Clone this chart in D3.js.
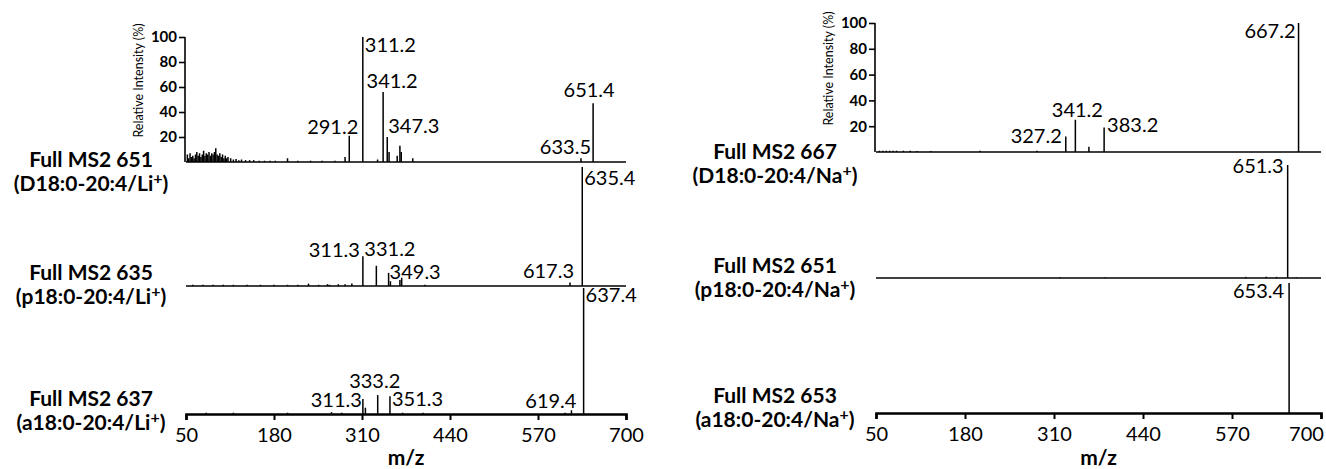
<!DOCTYPE html>
<html>
<head>
<meta charset="utf-8">
<script src="https://cdn.jsdelivr.net/npm/d3@7"></script>
<style>
  body { margin: 0; background: #fff; }
  text { font-family: Lato, "Open Sans", sans-serif; fill: #000; }
</style>
</head>
<body>
<svg id="chart" width="1326" height="469"></svg>
<script>
const mzTicks = [50, 180, 310, 440, 570, 700];
const intensityTicks = [20, 40, 60, 80, 100];

// Li+ adducts (left column)
const titlesLi = ["Full MS2 651", "Full MS2 635", "Full MS2 637"];
const speciesLi = ["D18:0-20:4/Li", "p18:0-20:4/Li", "a18:0-20:4/Li"];

// Na+ adducts (right column)
const titlesNa = ["Full MS2 667", "Full MS2 651", "Full MS2 653"];
const speciesNa = ["D18:0-20:4/Na", "p18:0-20:4/Na", "a18:0-20:4/Na"];

// peaks as [m/z, relative intensity %]
const peaksLiD18 = [
  [52, 6], [54, 3], [56, 7], [58, 4], [60, 5], [62, 3], [64, 6], [66, 8], [68, 5], [70, 7],
  [72, 4], [74, 6], [76, 9], [78, 5], [80, 7], [82, 6], [84, 8], [86, 5], [88, 7], [90, 6],
  [92, 8], [94, 11], [96, 6], [98, 5], [100, 7], [102, 4], [104, 6], [106, 3], [108, 5], [110, 3],
  [112, 4], [116, 3], [120, 2], [124, 2.5], [128, 1.5], [132, 2], [138, 1.5], [144, 1.5], [150, 1.5],
  [158, 1], [166, 1], [174, 1], [182, 1], [200, 3], [215, 1], [234, 1], [251, 1], [270, 1],
  [285, 4], [291.2, 21], [311.2, 100], [333, 2], [341.2, 56], [347.3, 20], [350, 8],
  [362, 5], [366, 13], [368, 8], [385, 3], [633.5, 3], [651.4, 47]
];
const peaksLiP18 = [
  [60, 1], [75, 1], [90, 1], [105, 1], [120, 1], [140, 1], [160, 1], [180, 1], [200, 1],
  [215, 1], [231, 2], [246, 1], [259, 1.5], [262, 1], [275, 1.5], [285, 1.5], [295, 2],
  [311.3, 25], [331.2, 17], [349.3, 11], [352, 4], [366, 5], [368.6, 7], [403, 1],
  [617.3, 3], [635.4, 100]
];
const peaksLiA18 = [
  [80, 1], [120, 1], [200, 1], [265, 1.5], [280, 1], [311.3, 12], [315, 5], [333.2, 15],
  [351.3, 14], [370, 1], [400, 1], [610, 1], [619.4, 3], [637.4, 100]
];
const peaksNaD18 = [
  [55, 1], [60, 1], [65, 1], [70, 1], [75, 1], [80, 1], [90, 1], [100, 1], [110, 0.8],
  [130, 0.8], [202, 1], [285, 1], [327.2, 12], [341.2, 25], [361, 4], [383.2, 19], [667.2, 100]
];
const peaksNaP18 = [
  [319, 0.6], [385, 0.6], [590, 1], [620, 1], [635, 1], [651.3, 100], [664, 0.6]
];
const peaksNaA18 = [
  [653.4, 100]
];

// annotated peaks per spectrum
const labelsLiD18 = ["291.2", "311.2", "341.2", "347.3", "633.5", "651.4"];
const labelsLiP18 = ["311.3", "331.2", "349.3", "617.3", "635.4"];
const labelsLiA18 = ["311.3", "333.2", "351.3", "619.4", "637.4"];
const labelsNaD18 = ["327.2", "341.2", "383.2", "667.2"];
const labelsNaP18 = ["651.3"];
const labelsNaA18 = ["653.4"];

// label placement: [anchor, dx from peak, dy from peak top]
const place = {
  "LiD18": { "291.2": ["end", 9, -2], "311.2": ["start", 2, 15], "341.2": ["middle", 9, -4],
             "347.3": ["start", 1, -4], "633.5": ["end", 10, -4], "651.4": ["middle", -4, -6] },
  "LiP18": { "311.3": ["end", -3, 1], "331.2": ["start", -12, -10], "349.3": ["start", 1, 6],
             "617.3": ["end", 4, -4], "635.4": ["start", 2, 18] },
  "LiA18": { "311.3": ["end", -1, 8], "333.2": ["middle", -3, -7], "351.3": ["start", 2, 10],
             "619.4": ["end", 5, -2], "637.4": ["start", 2, 14] },
  "NaD18": { "327.2": ["end", -4, 6], "341.2": ["middle", 2, -3], "383.2": ["start", 3, 5],
             "667.2": ["end", -3, 15] },
  "NaP18": { "651.3": ["end", -4, 8] },
  "NaA18": { "653.4": ["end", -5, 15] }
};

const svg = d3.select("#chart");

const columns = [
  {
    x0: 186, x1: 626, titleX: 91, ion: "Li",
    titles: titlesLi, species: speciesLi,
    panels: [
      { key: "LiD18", peaks: peaksLiD18, labels: labelsLiD18, base: 162, top: 37, ty: 167 },
      { key: "LiP18", peaks: peaksLiP18, labels: labelsLiP18, base: 286, top: 167, ty: 280 },
      { key: "LiA18", peaks: peaksLiA18, labels: labelsLiA18, base: 414, top: 288, ty: 406 }
    ]
  },
  {
    x0: 876, x1: 1321, titleX: 775, ion: "Na",
    titles: titlesNa, species: speciesNa,
    panels: [
      { key: "NaD18", peaks: peaksNaD18, labels: labelsNaD18, base: 152, top: 23, ty: 159 },
      { key: "NaP18", peaks: peaksNaP18, labels: labelsNaP18, base: 278, top: 165, ty: 273 },
      { key: "NaA18", peaks: peaksNaA18, labels: labelsNaA18, base: 413, top: 283, ty: 403 }
    ]
  }
];

columns.forEach(col => {
  const x = d3.scaleLinear().domain([50, 700]).range([col.x0, col.x1]);
  const g = svg.append("g");

  col.panels.forEach((p, i) => {
    const y = d3.scaleLinear().domain([0, 100]).range([p.base, p.top]);
    const pg = g.append("g");
    const last = i === col.panels.length - 1;

    // peaks
    pg.selectAll("line.peak")
      .data(p.peaks)
      .enter()
      .append("line")
      .attr("class", "peak")
      .attr("x1", d => x(d[0]))
      .attr("x2", d => x(d[0]))
      .attr("y1", y(0))
      .attr("y2", d => y(d[1]))
      .attr("stroke", "#000")
      .attr("stroke-width", 1.5);

    // baseline / x axis
    if (last) {
      const ax = pg.append("g")
        .attr("transform", `translate(0,${p.base})`)
        .call(d3.axisBottom(x).tickValues(mzTicks).tickSize(6).tickSizeOuter(6).tickFormat(d3.format("d")));
      ax.select(".domain").attr("stroke-width", 2.6);
      ax.selectAll(".tick line").attr("stroke-width", 2);
      ax.selectAll(".tick text")
        .attr("dy", 0)
        .attr("y", 28)
        .attr("x", d => (x(d) + 19 > 1325 ? 1325 - x(d) - 19 : 0))
        .style("font-size", "20px")
        .style("font-family", "Lato, sans-serif");
      pg.append("text")
        .attr("x", (col.x0 + col.x1) / 2)
        .attr("y", 465)
        .attr("text-anchor", "middle")
        .style("font-size", "21px")
        .style("font-weight", "bold")
        .text("m/z");
    } else {
      pg.append("line")
        .attr("x1", col.x0).attr("x2", col.x1)
        .attr("y1", p.base).attr("y2", p.base)
        .attr("stroke", "#000").attr("stroke-width", 1.6);
    }

    // y axis on the top spectrum only
    if (i === 0) {
      const ay = pg.append("g")
        .attr("transform", `translate(${col.x0 - 1},0)`)
        .call(d3.axisLeft(y).tickValues(intensityTicks).tickSize(6).tickSizeOuter(0));
      ay.select(".domain").attr("d", `M0,${p.base}V${y(100)}`).attr("stroke-width", 1.6);
      ay.selectAll(".tick line").attr("stroke-width", 1.6);
      ay.selectAll(".tick text")
        .attr("x", -8)
        .style("font-size", "15px")
        .style("font-weight", "bold")
        .style("font-family", "Lato, sans-serif");
      pg.append("text")
        .attr("transform", `translate(${col.x0 - 43},${(p.base + p.top) / 2 - 19}) rotate(-90)`)
        .attr("text-anchor", "middle")
        .style("font-size", "12.5px")
        .text("Relative Intensity (%)");
    }

    // peak annotations
    p.labels.forEach(lbl => {
      const mz = +lbl;
      const pk = p.peaks.find(d => d[0] === mz);
      const [anchor, dx, dy] = place[p.key][lbl];
      pg.append("text")
        .attr("x", x(mz) + dx)
        .attr("y", y(pk[1]) + dy)
        .attr("text-anchor", anchor)
        .style("font-size", "20px")
        .text(lbl);
    });

    // spectrum title
    pg.append("text")
      .attr("x", col.titleX)
      .attr("y", p.ty)
      .attr("text-anchor", "middle")
      .style("font-size", "21px")
      .style("font-weight", "bold")
      .text(col.titles[i]);
    const t2 = pg.append("text")
      .attr("x", col.titleX)
      .attr("y", p.ty + 24)
      .attr("text-anchor", "middle")
      .style("font-size", "21px")
      .style("font-weight", "bold");
    t2.append("tspan").text("(" + col.species[i]);
    t2.append("tspan").attr("dy", -7).style("font-size", "16px").text("+");
    t2.append("tspan").attr("dy", 7).text(")");
  });
});
</script>
</body>
</html>
